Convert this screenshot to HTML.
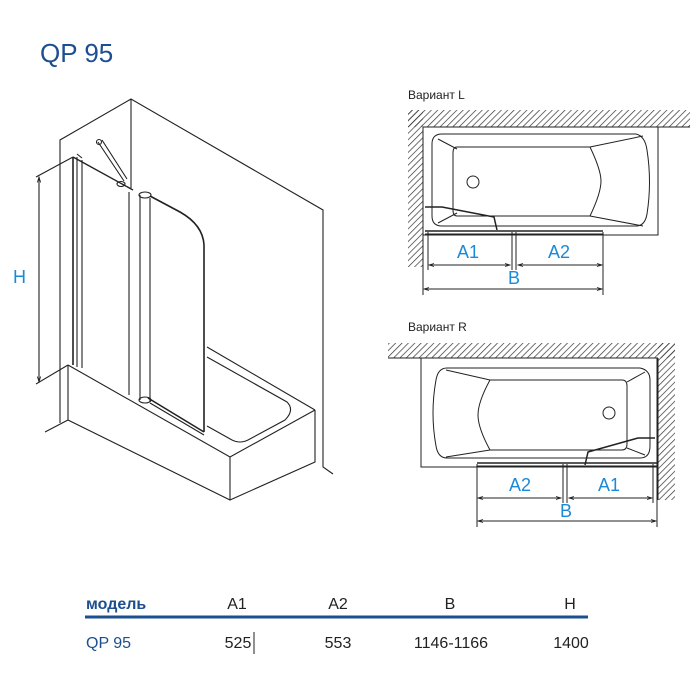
<!DOCTYPE html>
<html><head><meta charset="utf-8"><style>
html,body{margin:0;padding:0;background:#fff;width:700px;height:700px;overflow:hidden}
svg{display:block}
</style></head><body>
<svg width="700" height="700" viewBox="0 0 700 700" xmlns="http://www.w3.org/2000/svg" font-family="Liberation Sans, sans-serif">
<defs>
<pattern id="h" patternUnits="userSpaceOnUse" width="4.5" height="4.5" patternTransform="rotate(45)">
<line x1="0" y1="0" x2="0" y2="4.5" stroke="#333" stroke-width="1.4"/>
</pattern>
<marker id="a" viewBox="0 0 10 10" refX="10" refY="5" markerWidth="7" markerHeight="5" orient="auto-start-reverse"><path d="M0,2 L10,5 L0,8" fill="none" stroke="#222" stroke-width="1.5"/></marker>
</defs>
<text x="40" y="62" font-size="26" fill="#1b4f8f">QP 95</text>

<g fill="none" stroke="#222" stroke-width="1.1">
<polyline points="60,423 60,140 131,99 323,210 323,467 333,474"/>
<line x1="131" y1="99" x2="131" y2="188"/>
<line x1="45" y1="432" x2="68" y2="420"/>
<polyline points="68,365 68,420 230,500 315,462 315,410"/>
<polyline points="68,365 230,457 315,410"/>
<line x1="230" y1="457" x2="230" y2="500"/>
<line x1="207" y1="347" x2="315" y2="410"/>
<path d="M207,357 L287,402 Q295,410 285,420 L248,440 Q240,444 232,440 L207,426"/>
<line x1="73" y1="157" x2="73" y2="365" stroke-width="1.6"/>
<line x1="77" y1="157" x2="77" y2="367"/>
<line x1="82" y1="160" x2="82" y2="368"/>
<line x1="73" y1="157" x2="133" y2="190" stroke-width="1.4"/>
<line x1="77" y1="154" x2="82" y2="158"/>
<path d="M98,142 L124,181 M102,140 L127,179" />
<circle cx="99" cy="142" r="2.5"/>
<ellipse cx="121" cy="184" rx="4" ry="2.5"/>
<line x1="129" y1="192" x2="129" y2="395"/>
<line x1="140" y1="195" x2="140" y2="400"/>
<line x1="150" y1="198" x2="150" y2="402"/>
<ellipse cx="145" cy="195" rx="6" ry="3"/>
<ellipse cx="145" cy="400" rx="6" ry="3"/>
<path d="M150,196 L180,212 Q203,225 204,245 L204,432" stroke-width="1.6"/>
<line x1="148" y1="398" x2="204" y2="432" stroke-width="1.6"/>
<line x1="150" y1="403" x2="204" y2="435"/>
<line x1="39" y1="177" x2="39" y2="382" marker-start="url(#a)" marker-end="url(#a)"/>
<line x1="36" y1="177" x2="73" y2="157"/>
<line x1="36" y1="384" x2="68" y2="365"/>
</g>
<text x="13" y="283" font-size="18" fill="#1a8ad8">H</text>

<text x="408" y="99" font-size="12" fill="#222">Вариант L</text>
<rect x="408" y="110" width="282" height="17" fill="url(#h)"/>
<rect x="408" y="110" width="15" height="157" fill="url(#h)"/>
<g fill="none" stroke="#222" stroke-width="1">
<line x1="423" y1="127" x2="690" y2="127"/>
<line x1="423" y1="127" x2="423" y2="295"/>
<rect x="423" y="127" width="235" height="108"/>
<path d="M442,134 L636,134 Q645,136 647,150 Q652,182 647,214 Q645,226 636,226 L442,226 Q432,226 432,216 L432,144 Q432,134 442,134Z"/>
<path d="M457,147 L590,147 Q601,170 601,181 Q601,193 590,216 L457,216 Q453,216 453,210 L453,153 Q453,147 457,147Z"/>
<line x1="438" y1="139" x2="457" y2="149"/>
<line x1="438" y1="223" x2="457" y2="213"/>
<line x1="590" y1="147" x2="643" y2="136"/>
<line x1="590" y1="216" x2="643" y2="226"/>
<circle cx="473" cy="182" r="6"/>
<path d="M425,207 L442,207 L494,217 L497,230" stroke-width="1.5"/>
<line x1="425" y1="231" x2="603" y2="231" stroke-width="1.5"/>
<line x1="425" y1="234" x2="603" y2="234"/>
<line x1="428" y1="232" x2="428" y2="270"/>
<line x1="512" y1="232" x2="512" y2="270"/>
<line x1="516" y1="232" x2="516" y2="270"/>
<line x1="603" y1="232" x2="603" y2="295"/>
<line x1="429" y1="265" x2="510" y2="265" marker-start="url(#a)" marker-end="url(#a)"/>
<line x1="518" y1="265" x2="602" y2="265" marker-start="url(#a)" marker-end="url(#a)"/>
<line x1="424" y1="289" x2="602" y2="289" marker-start="url(#a)" marker-end="url(#a)"/>
</g>
<g font-size="18" fill="#1a8ad8">
<text x="457" y="258">A1</text><text x="548" y="258">A2</text><text x="508" y="284">B</text>
</g>

<text x="408" y="331" font-size="12" fill="#222">Вариант R</text>
<rect x="388" y="343" width="287" height="15" fill="url(#h)"/>
<rect x="658" y="343" width="17" height="157" fill="url(#h)"/>
<g fill="none" stroke="#222" stroke-width="1">
<line x1="388" y1="358" x2="658" y2="358"/>
<line x1="658" y1="358" x2="658" y2="500"/>
<rect x="421" y="358" width="236" height="109"/>
<path d="M447,368 L640,368 Q650,370 650,380 L650,446 Q650,458 640,458 L447,458 Q438,458 436,446 Q430,413 436,380 Q438,368 447,368Z"/>
<path d="M490,380 L622,380 Q627,380 627,386 L627,444 Q627,450 622,450 L490,450 Q478,428 478,415 Q478,402 490,380Z"/>
<line x1="446" y1="370" x2="490" y2="380"/>
<line x1="446" y1="457" x2="490" y2="450"/>
<line x1="627" y1="382" x2="645" y2="372"/>
<line x1="627" y1="448" x2="645" y2="455"/>
<circle cx="609" cy="413" r="6"/>
<path d="M655,438 L638,438 L588,452 L585,465" stroke-width="1.5"/>
<line x1="477" y1="463" x2="657" y2="463" stroke-width="1.5"/>
<line x1="477" y1="466" x2="657" y2="466"/>
<line x1="477" y1="464" x2="477" y2="527"/>
<line x1="563" y1="464" x2="563" y2="503"/>
<line x1="567" y1="464" x2="567" y2="503"/>
<line x1="653" y1="464" x2="653" y2="503"/>
<line x1="657" y1="464" x2="657" y2="527"/>
<line x1="478" y1="498" x2="561" y2="498" marker-start="url(#a)" marker-end="url(#a)"/>
<line x1="569" y1="498" x2="652" y2="498" marker-start="url(#a)" marker-end="url(#a)"/>
<line x1="478" y1="521" x2="656" y2="521" marker-start="url(#a)" marker-end="url(#a)"/>
</g>
<g font-size="18" fill="#1a8ad8">
<text x="509" y="491">A2</text><text x="598" y="491">A1</text><text x="560" y="517">B</text>
</g>

<g font-size="16" fill="#222" text-anchor="middle">
<text x="86" y="609" text-anchor="start" fill="#1b4f8f" font-weight="bold">модель</text>
<text x="237" y="609">A1</text><text x="338" y="609">A2</text><text x="450" y="609">B</text><text x="570" y="609">H</text>
<text x="86" y="648" text-anchor="start" fill="#1b4f8f">QP 95</text>
<text x="238" y="648">525</text><text x="338" y="648">553</text><text x="451" y="648">1146-1166</text><text x="571" y="648">1400</text>
</g>
<line x1="254" y1="632" x2="254" y2="654" stroke="#222" stroke-width="1"/>
<line x1="85" y1="617" x2="588" y2="617" stroke="#1b4f8f" stroke-width="3"/>
</svg>
</body></html>
